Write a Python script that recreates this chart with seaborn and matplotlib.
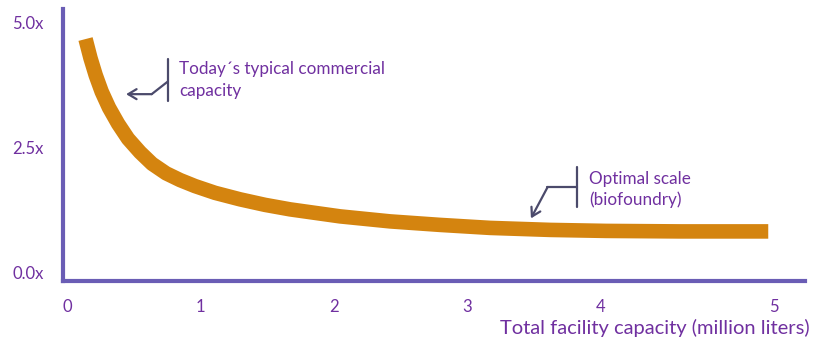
import numpy as np
import pandas as pd
import matplotlib
matplotlib.use("Agg")
import matplotlib.pyplot as plt
import seaborn as sns

# Relative unit cost versus total facility capacity
capacity = [0.139, 0.176, 0.215, 0.26, 0.315, 0.383, 0.458, 0.548, 0.638, 0.743,
            0.848, 0.96, 1.11, 1.298, 1.485, 1.673, 2.048, 2.423, 2.798, 3.173,
            3.623, 4.033, 4.46, 4.968]
relative_cost = [4.67, 4.29, 3.95, 3.62, 3.30, 2.98, 2.68, 2.41, 2.18, 1.99,
                 1.855, 1.735, 1.60, 1.47, 1.36, 1.27, 1.13, 1.03, 0.96, 0.90,
                 0.86, 0.84, 0.83, 0.83]

x_ticks = [0, 1, 2, 3, 4, 5]
x_tick_labels = ["0", "1", "2", "3", "4", "5"]
y_ticks = [0.0, 2.5, 5.0]
y_tick_labels = ["0.0x", "2.5x", "5.0x"]

x_label = "Total facility capacity (million liters)"
note_today = "Today\u00b4s typical commercial\ncapacity"
note_optimal = "Optimal scale\n(biofoundry)"

CURVE = "#d4840f"
AXIS = "#6a5db5"
TEXT = "#7030a0"
CALLOUT = "#4b4a6b"

sns.set_theme(style="white")
plt.rcParams["font.family"] = ["Lato", "DejaVu Sans"]

fig = plt.figure(figsize=(8.14, 3.39), dpi=100)
ax = fig.add_axes([63 / 814, 1 - 280.5 / 339, (805 - 63) / 814, (280.5 - 9) / 339])

# the last interval of the axis is drawn a little wider
def fwd(x):
    x = np.asarray(x, dtype=float)
    return np.where(x <= 4, x, 4 + (x - 4) * 1.3)

def inv(x):
    x = np.asarray(x, dtype=float)
    return np.where(x <= 4, x, 4 + (x - 4) / 1.3)

ax.set_xscale("function", functions=(fwd, inv))

df = pd.DataFrame({"capacity": capacity, "cost": relative_cost})
sns.lineplot(data=df, x="capacity", y="cost", ax=ax, color=CURVE,
             linewidth=10.5, estimator=None, sort=False)
for ln in ax.lines:
    ln.set_solid_capstyle("butt")
    ln.set_solid_joinstyle("round")

ax.set_xlim(-0.03, 5.18)
ax.set_ylim(-0.15, 5.27)

ax.set_xticks(x_ticks)
ax.set_xticklabels(x_tick_labels)
ax.set_yticks(y_ticks)
ax.set_yticklabels(y_tick_labels)
ax.tick_params(axis="both", length=0, colors=TEXT, labelsize=12)
ax.tick_params(axis="x", pad=13)
ax.tick_params(axis="y", pad=14)

for side in ("top", "right"):
    ax.spines[side].set_visible(False)
for side in ("left", "bottom"):
    ax.spines[side].set_color(AXIS)
    ax.spines[side].set_linewidth(3)

ax.set_ylabel("")
ax.set_xlabel(x_label, color=TEXT, fontsize=14.5, ha="right", va="center")
ax.xaxis.set_label_coords((810 - 63) / 742, -0.173)

# callout: today's typical commercial capacity
ax.plot([0.755, 0.755], [4.27, 3.43], color=CALLOUT, lw=1.6)
ax.plot([0.755, 0.635], [3.82, 3.57], color=CALLOUT, lw=1.6)
ax.annotate("", xy=(0.443, 3.57), xytext=(0.635, 3.57),
            arrowprops=dict(arrowstyle="->,head_length=0.5,head_width=0.3",
                            color=CALLOUT, lw=1.6, shrinkA=0, shrinkB=0))
ax.text(0.84, 3.86, note_today, color=TEXT, fontsize=12.3,
        ha="left", va="center", linespacing=1.45)

# callout: optimal scale
ax.plot([3.828, 3.828], [2.12, 1.32], color=CALLOUT, lw=1.6)
ax.plot([3.828, 3.603], [1.71, 1.71], color=CALLOUT, lw=1.6)
ax.annotate("", xy=(3.479, 1.09), xytext=(3.603, 1.71),
            arrowprops=dict(arrowstyle="->,head_length=0.5,head_width=0.3",
                            color=CALLOUT, lw=1.6, shrinkA=0, shrinkB=0))
ax.text(3.918, 1.66, note_optimal, color=TEXT, fontsize=12.3,
        ha="left", va="center", linespacing=1.35)

fig.savefig("out.png", dpi=100)
